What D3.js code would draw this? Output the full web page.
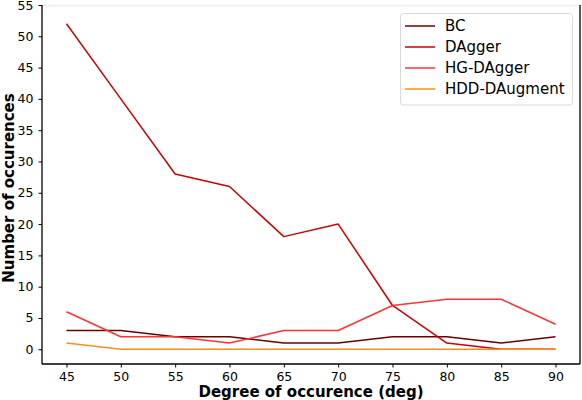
<!DOCTYPE html>
<html><head><meta charset="utf-8">
<script src="https://cdn.jsdelivr.net/npm/d3@7/dist/d3.min.js"></script>
<style>body{margin:0;background:#fff}svg{display:block}text{font-family:"DejaVu Sans",sans-serif}</style>
</head><body>
<svg id="c" width="582" height="400"></svg>
<script>
const degrees = [45, 50, 55, 60, 65, 70, 75, 80, 85, 90];
const bc = [3, 3, 2, 2, 1, 1, 2, 2, 1, 2];
const dagger = [52, 40, 28, 26, 18, 20, 7, 1, 0, 0];
const hgDagger = [6, 2, 2, 1, 3, 3, 7, 8, 8, 4];
const hddDaugment = [1, 0, 0, 0, 0, 0, 0, 0, 0, 0];
const seriesNames = ["BC", "DAgger", "HG-DAgger", "HDD-DAugment"];
const xTicks = [45, 50, 55, 60, 65, 70, 75, 80, 85, 90];
const yTicks = [0, 5, 10, 15, 20, 25, 30, 35, 40, 45, 50, 55];

const series = [
  {name: seriesNames[0], values: bc, color: "#6b0000"},
  {name: seriesNames[1], values: dagger, color: "#cc0000"},
  {name: seriesNames[2], values: hgDagger, color: "#ff3333"},
  {name: seriesNames[3], values: hddDaugment, color: "#ff8c1a"}
];

const L = 42, R = 580, T = 5, B = 364;
const svg = d3.select("#c");
const x = d3.scaleLinear().domain([42.75, 92.25]).range([L, R]);
const y = d3.scaleLinear().domain([-2.35, 55]).range([B, T]);

// frame
svg.append("line").attr("x1", L).attr("x2", R).attr("y1", T + 0.5).attr("y2", T + 0.5)
  .attr("stroke", "#eeeeee").attr("stroke-width", 1.5);

const line = d3.line().x((d, i) => x(degrees[i])).y(d => y(d));
series.forEach(s => {
  svg.append("path").datum(s.values).attr("d", line)
    .attr("fill", "none").attr("stroke", s.color).attr("stroke-width", 1.5)
    .attr("stroke-linejoin", "round");
});

const xa = svg.append("g").attr("transform", `translate(0,${B})`)
  .call(d3.axisBottom(x).tickValues(xTicks).tickSize(3.5).tickPadding(5));
const ya = svg.append("g").attr("transform", `translate(${L},0)`)
  .call(d3.axisLeft(y).tickValues(yTicks).tickSize(3.5).tickPadding(5));
[xa, ya].forEach(a => {
  a.selectAll("text").attr("font-size", 12.5).attr("fill", "#000").style("font-family", "DejaVu Sans");
  a.selectAll("line").attr("stroke", "#000");
  a.select(".domain").attr("stroke", "#000").attr("stroke-width", 1.3);
});
xa.select(".domain").attr("d", `M${L},0H${R}`);
ya.select(".domain").attr("d", `M0,${B}V${T}`);
svg.append("line").attr("x1", R).attr("x2", R).attr("y1", T).attr("y2", B)
  .attr("stroke", "#000").attr("stroke-width", 1.3);

svg.append("text").attr("x", (L + R) / 2).attr("y", 397)
  .attr("text-anchor", "middle").attr("font-size", 15).attr("font-weight", "bold")
  .text("Degree of occurence (deg)");
svg.append("text").attr("transform", `translate(14,188) rotate(-90)`)
  .attr("text-anchor", "middle").attr("font-size", 15).attr("font-weight", "bold")
  .text("Number of occurences");

// legend
const lg = svg.append("g");
lg.append("rect").attr("x", 400.5).attr("y", 13.5).attr("width", 172).attr("height", 91.5)
  .attr("rx", 3).attr("fill", "#fff").attr("fill-opacity", 0.8)
  .attr("stroke", "#d9d9d9").attr("stroke-width", 1);
series.forEach((s, i) => {
  const yy = 26 + i * 21;
  lg.append("line").attr("x1", 405).attr("x2", 435).attr("y1", yy).attr("y2", yy)
    .attr("stroke", s.color).attr("stroke-width", 1.5);
  lg.append("text").attr("x", 445).attr("y", yy + 5).attr("font-size", 15)
    .attr("fill", "#000").text(s.name);
});
</script>
</body></html>
